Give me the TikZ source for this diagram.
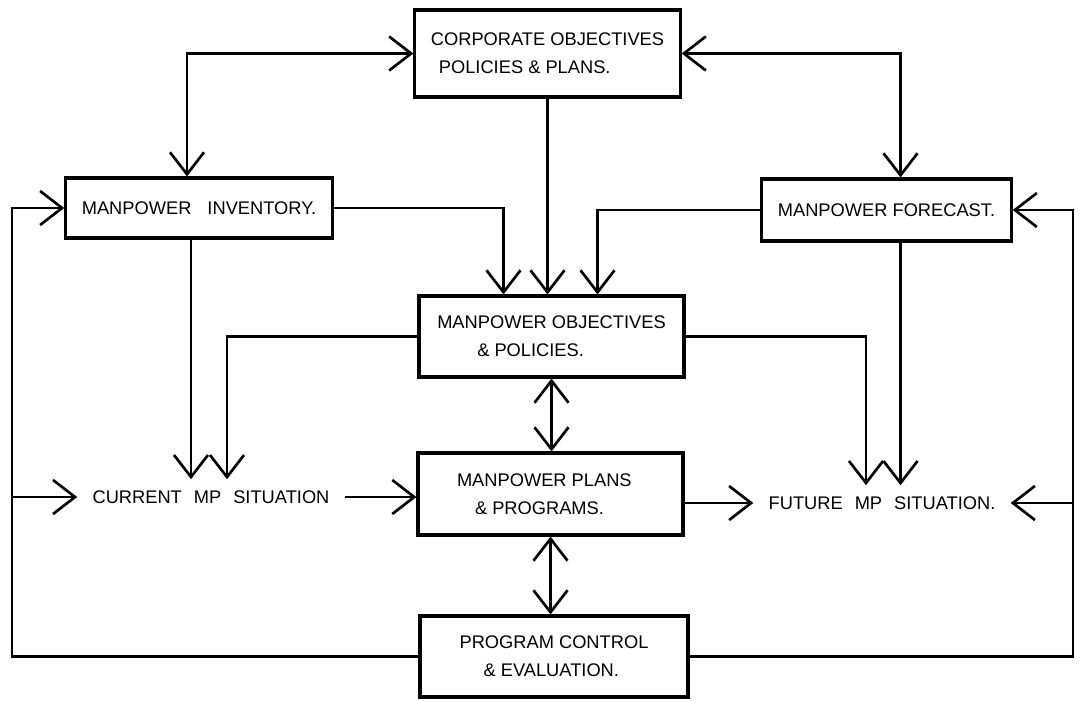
\documentclass[tikz,border=0pt]{standalone}
\usepackage{fontspec}
\setmainfont{Liberation Sans}
\usetikzlibrary{arrows.meta}

\begin{document}
\begin{tikzpicture}[x=0.25mm,y=-0.25mm,line width=1.9pt,>={Straight Barb[length=5.5mm,width=8.5mm]}]
		\tikzstyle{box}=[draw,rectangle,line width=2.2pt,inner xsep=4mm,align=left,font=\fontsize{13}{20}\selectfont]
		\tikzstyle{situation}=[inner xsep=3.5mm,inner ysep=2.5mm,font=\fontsize{13}{20}\selectfont]
		\useasboundingbox (0,0) rectangle (1083,701);
		\node[box,minimum width=64.25mm,minimum height=21.75mm] (corp) at (547.5,53.5) {CORPORATE OBJECTIVES\\\hspace*{2mm}POLICIES \& PLANS.};
		\node[box,minimum width=66.5mm,minimum height=15mm] (inv) at (199,208) {MANPOWER\hspace{4mm}INVENTORY.};
		\node[box,minimum width=62.25mm,minimum height=15.5mm] (fore) at (886.5,210) {MANPOWER FORECAST.};
		\node[box,minimum width=66.25mm,minimum height=20.25mm] (obj) at (551.5,336.5) {MANPOWER OBJECTIVES\\\hspace*{10mm}\& POLICIES.};
		\node[box,minimum width=66.25mm,minimum height=20.5mm] (plans) at (550.5,494) {MANPOWER PLANS\\\hspace*{4.5mm}\& PROGRAMS.\hspace*{10mm}};
		\node[box,minimum width=67mm,minimum height=20.25mm] (ctrl) at (554,656.5) {PROGRAM CONTROL\\\hspace*{6mm}\& EVALUATION.\hspace*{6mm}};
		\node[situation] (cur) at (211,497) {CURRENT\hspace{3mm}MP\hspace{3mm}SITUATION};
		\node[situation] (fut) at (882,503) {FUTURE\hspace{3mm}MP\hspace{3mm}SITUATION.};
		\coordinate (lrail) at (12,0);
		\coordinate (rrail) at (1073,0);
		% top level
		\draw[<->] (corp.west) -| ([xshift=-3mm]inv.north);
		\draw[<->] (corp.east) -| ([xshift=3.5mm]fore.north);
		\draw[->] (corp) -- (corp |- obj.north);
		\draw[->] (inv) -| ([xshift=-12mm]obj.north);
		\draw[->] (fore) -| ([xshift=11.5mm]obj.north);
		% into the situations
		\draw[->] ([xshift=-2mm]inv.south) -- ([xshift=-2mm]inv.south |- cur.north);
		\draw[->] (obj) -| ([xshift=4mm]cur.north);
		\draw[->] (obj) -| ([xshift=-4mm]fut.north);
		\draw[->] ([xshift=3.5mm]fore.south) -- ([xshift=3.5mm]fore.south |- fut.north);
		\draw[<->] (obj) -- (obj |- plans.north);
		\draw[<->] (plans) -- (plans |- ctrl.north);
		\draw[->] (cur.east) -- (cur.east -| plans.west);
		\draw[->] (plans.east |- fut.west) -- (fut.west);
		% feedback
		\draw[->] (ctrl.west) -- (ctrl.west -| lrail) |- (inv.west);
		\draw[->] (lrail |- cur.west) -- (cur.west);
		\draw[->] (ctrl.east) -- (ctrl.east -| rrail) |- (fore.east);
		\draw[->] (rrail |- fut.east) -- (fut.east);
	\end{tikzpicture}
\end{document}
